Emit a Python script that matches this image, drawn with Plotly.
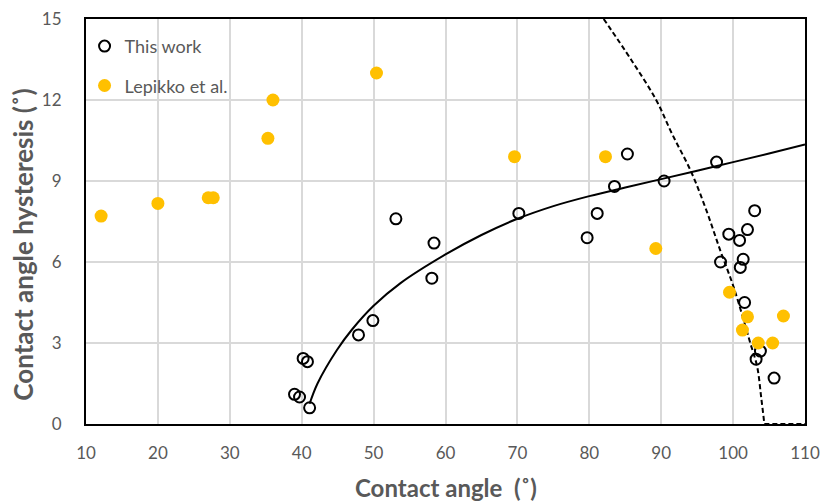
import plotly.graph_objects as go

# ---- data ----
this_x = [39.0, 39.7, 41.1, 40.2, 40.8, 47.9, 49.9, 53.1, 58.4, 58.1, 70.2, 79.7, 81.1, 83.5,
          85.3, 90.4, 97.7, 98.25, 99.4, 100.9, 101.0, 101.4, 102.0, 103.0, 101.6, 103.2, 103.8, 105.7]
this_y = [1.1, 1.0, 0.6, 2.43, 2.31, 3.3, 3.83, 7.6, 6.7, 5.4, 7.8, 6.9, 7.8, 8.8,
          10.0, 9.0, 9.7, 6.0, 7.03, 6.8, 5.8, 6.1, 7.2, 7.9, 4.5, 2.4, 2.7, 1.7]

lep_x = [12.1, 20.0, 27.0, 27.7, 35.3, 36.0, 50.4, 69.6, 82.25, 89.25, 99.5, 101.3, 102.0, 103.5, 105.5, 107.0]
lep_y = [7.7, 8.17, 8.38, 8.38, 10.58, 12.0, 13.0, 9.9, 9.9, 6.5, 4.88, 3.48, 3.97, 3.0, 3.0, 4.0]

fit_x = [41.1, 42.2, 44.9, 47.0, 50.0, 53.7, 60.0, 65.0, 70.0, 75.0, 80.0, 85.0, 90.0, 95.0, 100.0, 105.0, 110.0]
fit_y = [0.75, 1.5, 2.74, 3.5, 4.38, 5.21, 6.28, 7.0, 7.6, 8.07, 8.44, 8.76, 9.07, 9.38, 9.7, 10.02, 10.35]

model_x = [82.0, 85.8, 89.3, 91.5, 94.2, 96.3, 98.2, 100.1, 102.4, 103.35, 103.9, 104.35]
model_y = [15.0, 13.5, 12.0, 10.75, 9.32, 7.9, 6.44, 5.05, 2.99, 2.12, 1.0, 0.0]
flat_x = [104.35, 110.0]
flat_y = [0.0, 0.0]

x_ticks = [10, 20, 30, 40, 50, 60, 70, 80, 90, 100, 110]
y_ticks = [0, 3, 6, 9, 12, 15]

GREY = "#595959"
GOLD = "#FFC000"
FONT = "Lato"

fig = go.Figure()
fig.add_trace(go.Scatter(x=fit_x, y=fit_y, mode="lines", line=dict(color="black", width=2, shape="spline"),
                         showlegend=False, hoverinfo="skip"))
fig.add_trace(go.Scatter(x=model_x, y=model_y, mode="lines",
                         line=dict(color="black", width=2, dash="5px,3px", shape="spline"),
                         showlegend=False, hoverinfo="skip"))
fig.add_trace(go.Scatter(x=flat_x, y=flat_y, mode="lines",
                         line=dict(color="black", width=2, dash="5px,3px"),
                         showlegend=False, hoverinfo="skip"))
fig.add_trace(go.Scatter(x=this_x, y=this_y, mode="markers", name="This work", legendgroup="a",
                         marker=dict(symbol="circle-open", size=11, color="black", line=dict(width=2, color="black"))))
fig.add_trace(go.Scatter(x=lep_x, y=lep_y, mode="markers", name="Lepikko et al.", legendgroup="b",
                         marker=dict(symbol="circle", size=13, color=GOLD)))

axis_common = dict(showline=True, linecolor="black", linewidth=2, mirror=True,
                   showgrid=True, gridcolor="#d9d9d9", gridwidth=1.5, zeroline=False,
                   ticks="", automargin=False, tickfont=dict(family=FONT, size=17, color=GREY))
fig.update_xaxes(range=[10, 110], tickvals=x_ticks, ticklabelstandoff=13, **axis_common)
fig.update_yaxes(range=[0, 15], tickvals=y_ticks, ticklabelstandoff=19, **axis_common)

fig.update_layout(
    width=823, height=501,
    margin=dict(l=86, r=18, t=19, b=77, autoexpand=False),
    plot_bgcolor="white", paper_bgcolor="white",
    font=dict(family=FONT, color=GREY),
    legend=dict(x=-0.002, y=0.978, xanchor="left", yanchor="top", bgcolor="rgba(0,0,0,0)",
                font=dict(family=FONT, size=18, color=GREY), traceorder="grouped", tracegroupgap=13),
    annotations=[
        dict(text="<b>Contact angle  (˚)</b>", xref="paper", yref="paper", x=0.5, y=-0.156,
             xanchor="center", yanchor="middle", showarrow=False,
             font=dict(family=FONT, size=24, color=GREY)),
        dict(text="<b>Contact angle hysteresis (˚)</b>", xref="paper", yref="paper", x=-0.088, y=0.442,
             xanchor="center", yanchor="middle", textangle=-90, showarrow=False,
             font=dict(family=FONT, size=26, color=GREY)),
    ],
)

fig.write_html("out.html", config={"displayModeBar": False},
               post_script="document.body.style.margin='0';document.body.style.padding='0';")
